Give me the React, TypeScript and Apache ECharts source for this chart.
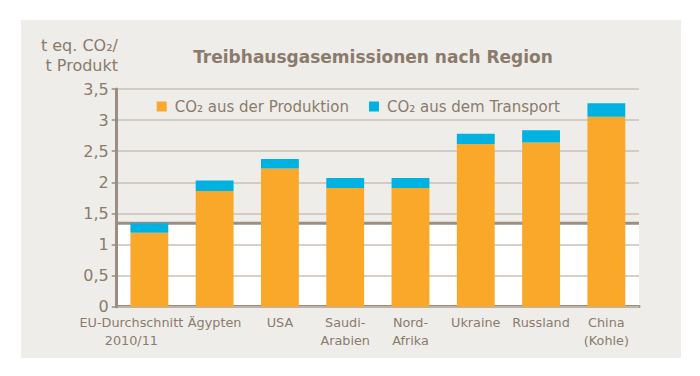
import React, { useEffect, useRef } from "react";
import * as echarts from "echarts";

const categories = ["EU-Durchschnitt\n2010/11", "Ägypten", "USA", "Saudi-\nArabien", "Nord-\nAfrika", "Ukraine", "Russland", "China\n(Kohle)"];
const produktion = [1.19, 1.86, 2.22, 1.91, 1.91, 2.615, 2.64, 3.055];
const transport = [0.15, 0.17, 0.155, 0.16, 0.16, 0.165, 0.195, 0.215];
const euReference = 1.34;
const seriesNames = ["CO₂ aus der Produktion", "CO₂ aus dem Transport"];
const titleText = "Treibhausgasemissionen nach Region";
const yAxisName = "t eq. CO₂/\nt Produkt";

const FONT = "'DejaVu Sans', sans-serif";
const TXT = "#8a7b6c";

export default function App() {
  const ref = useRef<HTMLDivElement>(null);
  useEffect(() => {
    document.body.style.margin = "0";
    const chart = echarts.init(ref.current!, undefined, { renderer: "svg" });
    chart.setOption({
      animation: false,
      textStyle: { fontFamily: FONT },
      graphic: [
        { type: "rect", z: -10, shape: { x: 21, y: 20, width: 660, height: 338 }, style: { fill: "#efede9" } },
        {
          type: "text", z: 10, x: 373, y: 57,
          style: { text: titleText, textAlign: "center", textVerticalAlign: "middle", fill: TXT, font: `bold 17px ${FONT}` },
        },
        {
          type: "text", z: 10, x: 118, y: 35,
          style: { text: yAxisName, textAlign: "right", textVerticalAlign: "top", fill: TXT, font: `16px ${FONT}`, lineHeight: 20 },
        },
      ],
      legend: {
        left: 151.7, top: 94, itemWidth: 10, itemHeight: 10, itemGap: 20, icon: "rect",
        textStyle: { color: TXT, fontSize: 15, fontFamily: FONT, padding: [0, 0, 0, 3] },
        data: seriesNames,
      },
      grid: { left: 116.7, right: 61, top: 89, bottom: 69.3, containLabel: false },
      xAxis: {
        type: "category", data: categories,
        axisLine: { lineStyle: { color: "#9b8d7f", width: 3 } },
        axisTick: { show: false },
        axisLabel: {
          color: TXT, fontSize: 12.8, lineHeight: 18, margin: 7, interval: 0, fontFamily: FONT,
          formatter: (v: string, i: number) => (i === 0 ? `{eu|${v}}` : v),
          rich: { eu: { color: TXT, fontSize: 12.8, lineHeight: 18, fontFamily: FONT, padding: [0, 36, 0, 0] } },
        },
      },
      yAxis: {
        type: "value", min: 0, max: 3.5, interval: 0.5, z: 1,
        axisLine: { show: true, lineStyle: { color: "#9b8d7f", width: 3 } },
        axisTick: { show: true, length: 5, lineStyle: { color: "#9b8d7f", width: 1.5 } },
        splitLine: { lineStyle: { color: "#cbc1b6", width: 1.5 } },
        axisLabel: { color: TXT, fontSize: 16, margin: 8, fontFamily: FONT, formatter: (v: number) => String(v).replace(".", ",") },
      },
      series: [
        {
          type: "custom", z: 0, silent: true, data: [[0, euReference]],
          renderItem: (params: any, api: any) => {
            const cs = params.coordSys;
            const y = api.coord([0, api.value(1)])[1];
            const y0 = api.coord([0, 0])[1];
            return {
              type: "group",
              children: [
                { type: "rect", shape: { x: cs.x, y, width: cs.width, height: y0 - y }, style: { fill: "#ffffff" } },
                { type: "line", shape: { x1: cs.x, y1: y, x2: cs.x + cs.width, y2: y }, style: { stroke: "#9c8f82", lineWidth: 3 } },
              ],
            };
          },
        },
        { name: seriesNames[0], type: "bar", stack: "a", barWidth: "58%", z: 3, itemStyle: { color: "#f9a82a" }, data: produktion },
        { name: seriesNames[1], type: "bar", stack: "a", barWidth: "58%", z: 3, itemStyle: { color: "#00b2e2" }, data: transport },
      ],
    });
    return () => chart.dispose();
  }, []);
  return <div ref={ref} style={{ width: 700, height: 376 }} />;
}
